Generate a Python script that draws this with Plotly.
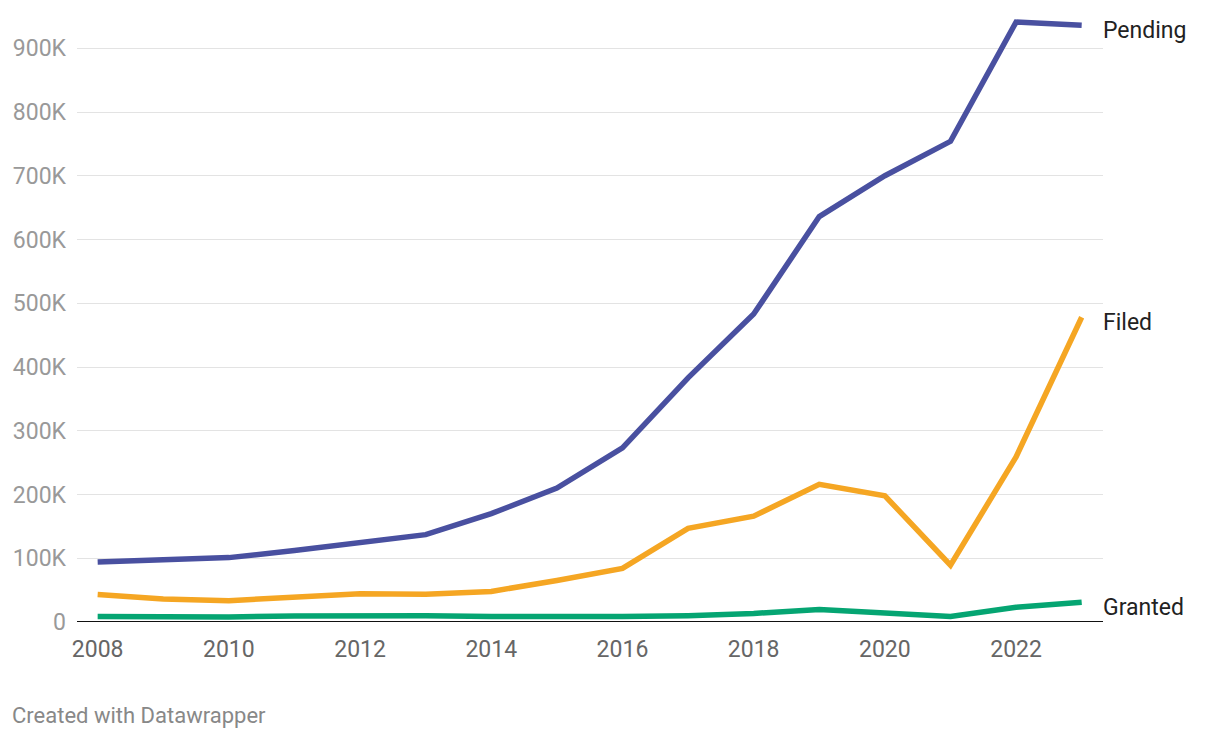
import plotly.graph_objects as go

years = list(range(2008, 2024))
pending = [94000, 97000, 101000, 112000, 125000, 137000, 170000, 210000, 273000,
           383000, 483000, 636000, 700000, 754000, 941000, 936000]
filed = [43000, 36000, 33500, 40000, 44500, 43500, 48000, 65000, 84000,
         147000, 166000, 216000, 198000, 89000, 259000, 478000]
granted = [8500, 8000, 8000, 9500, 10500, 10000, 8500, 8000, 8500,
           10000, 13500, 19500, 15000, 8500, 23000, 31000]

series_names = ["Pending", "Filed", "Granted"]
series_values = [pending, filed, granted]
colors = ["#4950A0", "#F5A623", "#05A572"]

y_tickvals = [0, 100000, 200000, 300000, 400000, 500000, 600000, 700000, 800000, 900000]
y_ticktext = ["0", "100K", "200K", "300K", "400K", "500K", "600K", "700K", "800K", "900K"]
x_tickvals = [2008, 2010, 2012, 2014, 2016, 2018, 2020, 2022]

fig = go.Figure()
for name, vals, col in zip(series_names, series_values, colors):
    fig.add_trace(go.Scatter(x=years, y=vals, mode="lines", name=name,
                             line=dict(color=col, width=5.5), showlegend=False,
                             hoverinfo="skip"))
    fig.add_annotation(x=years[-1], y=vals[-1], text=name, showarrow=False,
                       xanchor="left", yanchor="middle", xshift=19, yshift=-5,
                       font=dict(family="Roboto", size=23, color="#222222"))

fig.add_annotation(text="Created with Datawrapper", xref="paper", yref="paper",
                   x=0, y=0, xanchor="left", yanchor="middle", showarrow=False,
                   xshift=-67, yshift=-93,
                   font=dict(family="Roboto", size=22, color="#888888"))

fig.update_layout(
    width=1220, height=738,
    margin=dict(l=69, r=125, t=2, b=124),
    paper_bgcolor="white", plot_bgcolor="white",
    font=dict(family="Roboto"),
    xaxis=dict(range=[2007.685, 2023.325], tickvals=x_tickvals,
               showgrid=False, zeroline=False, showline=False, ticks="",
               tickfont=dict(size=23, color="#666666"), ticklabelstandoff=11),
    yaxis=dict(range=[0, 960000], tickvals=y_tickvals, ticktext=y_ticktext,
               showgrid=True, gridcolor="#e3e3e3", gridwidth=1,
               zeroline=False, showline=False, ticks="",
               tickfont=dict(size=23, color="#999999"), ticklabelstandoff=10),
)
fig.add_shape(type="line", xref="paper", yref="y", x0=0, x1=1, y0=0, y1=0,
              line=dict(color="#111111", width=2))

fig.write_html("out.html")
